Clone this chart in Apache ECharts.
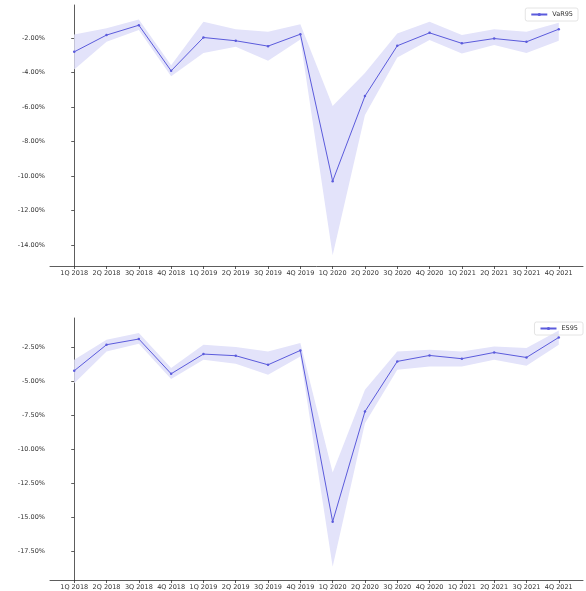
<!DOCTYPE html>
<html>
<head>
<meta charset="utf-8">
<script src="https://cdn.jsdelivr.net/npm/echarts@6/dist/echarts.min.js"></script>
<style>
  html, body { margin: 0; padding: 0; background: #fff; }
  #main { width: 586px; height: 591px; }
</style>
</head>
<body>
<div id="main"></div>
<script>
// quarters on the x axis
const quarters = ["1Q 2018", "2Q 2018", "3Q 2018", "4Q 2018", "1Q 2019", "2Q 2019", "3Q 2019", "4Q 2019",
  "1Q 2020", "2Q 2020", "3Q 2020", "4Q 2020", "1Q 2021", "2Q 2021", "3Q 2021", "4Q 2021"];

// VaR95 (%), with band
const var95 = [-2.81, -1.84, -1.27, -3.91, -1.98, -2.17, -2.48, -1.79, -10.29, -5.37, -2.46, -1.71, -2.32, -2.04, -2.23, -1.50];
const var95Upper = [-1.80, -1.44, -0.94, -3.58, -1.07, -1.51, -1.65, -1.21, -5.95, -4.03, -1.75, -1.07, -1.84, -1.51, -1.65, -1.13];
const var95Lower = [-3.83, -2.23, -1.55, -4.22, -2.87, -2.52, -3.33, -2.09, -14.58, -6.47, -3.14, -2.13, -2.90, -2.42, -2.87, -2.17];

// ES95 (%), with band
const es95 = [-4.22, -2.30, -1.88, -4.44, -2.99, -3.11, -3.78, -2.72, -15.34, -7.22, -3.53, -3.09, -3.33, -2.87, -3.24, -1.76];
const es95Upper = [-3.41, -1.93, -1.44, -4.02, -2.30, -2.47, -2.79, -2.17, -11.72, -5.62, -2.79, -2.67, -2.79, -2.43, -2.55, -1.25];
const es95Lower = [-5.13, -2.79, -2.23, -4.83, -3.41, -3.70, -4.52, -3.16, -18.66, -8.08, -4.15, -3.90, -3.90, -3.41, -3.85, -2.30];

// tick labels
const varTicks = [-14, -12, -10, -8, -6, -4, -2];
const esTicks = [-17.5, -15, -12.5, -10, -7.5, -5, -2.5];
const quarterIdx = quarters.map((q, i) => i);

const lineColor = "#5b5bdc";
const bandColor = "#e3e3fa";
const font = "DejaVu Sans";

let chart = echarts.init(document.getElementById("main"));

function xAxis(gridIndex) {
  return {
    type: "value",
    gridIndex: gridIndex,
    min: -0.75,
    max: 15.75,
    splitLine: { show: false },
    axisLine: { show: true, lineStyle: { color: "#333", width: 0.8 } },
    axisTick: { show: true, customValues: quarterIdx, length: 3, lineStyle: { color: "#333", width: 0.8 } },
    axisLabel: {
      customValues: quarterIdx,
      formatter: (v) => quarters[Math.round(v)],
      color: "#333",
      fontSize: 6.5,
      fontFamily: font,
      margin: 4,
    },
  };
}

function yAxis(gridIndex, min, max, ticks) {
  return {
    type: "value",
    gridIndex: gridIndex,
    min: min,
    max: max,
    splitLine: { show: false },
    axisLine: { show: true, lineStyle: { color: "#333", width: 0.8 } },
    axisTick: { show: true, customValues: ticks, length: 3, lineStyle: { color: "#333", width: 0.8 } },
    axisLabel: {
      customValues: ticks,
      formatter: (v) => v.toFixed(2) + "%",
      color: "#333",
      fontSize: 6.5,
      fontFamily: font,
      margin: 5,
    },
  };
}

// shaded band between lower and upper, drawn as one polygon through the axis scales
function bandSeries(idx, lower, upper) {
  return {
    type: "custom",
    xAxisIndex: idx,
    yAxisIndex: idx,
    silent: true,
    z: 1,
    data: lower.map((v, i) => [i, v, upper[i]]),
    renderItem: (params, api) => {
      if (params.dataIndexInside !== 0) return null;
      let top = upper.map((v, i) => api.coord([i, v]));
      let bottom = lower.map((v, i) => api.coord([i, v])).reverse();
      return {
        type: "polygon",
        shape: { points: top.concat(bottom) },
        style: { fill: bandColor },
      };
    },
  };
}

function mainSeries(name, idx, data) {
  return {
    name: name,
    type: "line",
    xAxisIndex: idx,
    yAxisIndex: idx,
    z: 3,
    symbol: "circle",
    symbolSize: 2.5,
    itemStyle: { color: lineColor },
    lineStyle: { color: lineColor, width: 1 },
    data: data.map((v, i) => [i, v]),
  };
}

let option = {
  animation: false,
  backgroundColor: "#fff",
  grid: [
    { left: 50, right: 3, top: 5, height: 261 },
    { left: 50, right: 3, top: 318, height: 262 },
  ],
  legend: [
    {
      data: ["VaR95"],
      right: 8,
      top: 8,
      itemWidth: 16,
      itemHeight: 4,
      padding: [3, 5],
      borderColor: "#ddd",
      borderWidth: 0.8,
      borderRadius: 2,
      textStyle: { fontSize: 6.5, fontFamily: font, color: "#333" },
    },
    {
      data: ["ES95"],
      right: 3,
      top: 322,
      itemWidth: 16,
      itemHeight: 4,
      padding: [3, 5],
      borderColor: "#ddd",
      borderWidth: 0.8,
      borderRadius: 2,
      textStyle: { fontSize: 6.5, fontFamily: font, color: "#333" },
    },
  ],
  xAxis: [xAxis(0), xAxis(1)],
  yAxis: [yAxis(0, -15.2, -0.1, varTicks), yAxis(1, -19.64, -0.33, esTicks)],
  series: [
    bandSeries(0, var95Lower, var95Upper),
    mainSeries("VaR95", 0, var95),
    bandSeries(1, es95Lower, es95Upper),
    mainSeries("ES95", 1, es95),
  ],
};
chart.setOption(option);
</script>
</body>
</html>
